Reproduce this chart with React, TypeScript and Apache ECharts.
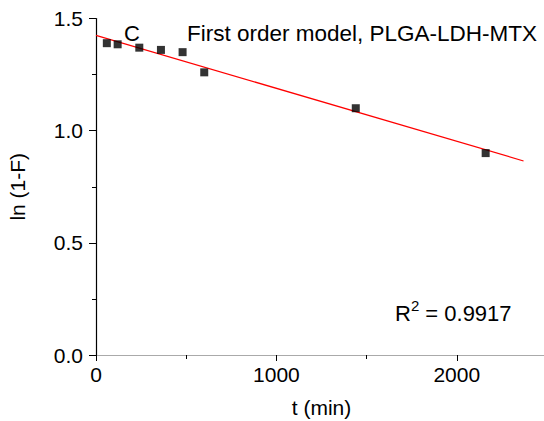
import React, { useEffect, useRef } from "react";
import * as echarts from "echarts";

const timeMin = [60, 120, 240, 360, 480, 600, 1440, 2160];
const lnValues = [1.39, 1.385, 1.37, 1.36, 1.35, 1.26, 1.1, 0.9];
const fitX = [0, 2370];
const fitY = [1.425, 0.865];
const xTicks = [0, 1000, 2000];
const yTicks = [0, 0.5, 1.0, 1.5];

const FONT = "'Liberation Sans', Arial, sans-serif";

export default function App() {
  const ref = useRef<HTMLDivElement>(null);
  useEffect(() => {
    if (!ref.current) return;
    const chart = echarts.init(ref.current, null, { renderer: "svg" });
    const scatterData = timeMin.map((t, i) => [t, lnValues[i]]);
    const fitData = fitX.map((t, i) => [t, fitY[i]]);
    chart.setOption({
      animation: false,
      backgroundColor: "#fff",
      grid: {
        left: 96,
        right: -3,
        top: 18.5,
        bottom: 66,
        containLabel: false,
        outerBoundsMode: "none",
      },
      xAxis: [
        {
          type: "value",
          min: 0,
          max: 2500,
          interval: 1000,
          name: "t (min)",
          nameLocation: "middle",
          nameGap: 42,
          nameTextStyle: { fontFamily: FONT, fontSize: 21, color: "#000" },
          axisLine: { show: true, onZero: false, lineStyle: { color: "#000", width: 1.2 } },
          axisTick: { show: true, inside: false, length: 6, lineStyle: { color: "#000" } },
          minorTick: { show: true, splitNumber: 2, length: 4, lineStyle: { color: "#000" } },
          splitLine: { show: false },
          axisLabel: {
            fontFamily: FONT,
            fontSize: 21,
            color: "#000",
            margin: 9,
            formatter: (v: number) => (xTicks.includes(v) ? String(v) : ""),
          },
        },
        {
          type: "value",
          position: "top",
          min: 0,
          max: 2500,
          axisLine: { show: true, lineStyle: { color: "#aaa", width: 1.2 } },
          axisTick: { show: false },
          axisLabel: { show: false },
          splitLine: { show: false },
        },
      ],
      yAxis: {
        type: "value",
        min: 0,
        max: 1.5,
        interval: 0.5,
        name: "ln (1-F)",
        nameLocation: "middle",
        nameGap: 68,
        nameTextStyle: { fontFamily: FONT, fontSize: 21, color: "#000" },
        axisLine: { show: true, onZero: false, lineStyle: { color: "#000", width: 1.2 } },
        axisTick: { show: true, inside: false, length: 7, lineStyle: { color: "#000" } },
        minorTick: { show: true, splitNumber: 2, length: 4, lineStyle: { color: "#000" } },
        splitLine: { show: false },
        axisLabel: {
          fontFamily: FONT,
          fontSize: 21,
          color: "#000",
          margin: 13,
          formatter: (v: number) => (yTicks.includes(v) ? v.toFixed(1) : ""),
        },
      },
      series: [
        {
          type: "line",
          data: fitData,
          showSymbol: false,
          symbol: "none",
          lineStyle: { color: "#ff0000", width: 1.2 },
          z: 2,
        },
        {
          type: "scatter",
          data: scatterData,
          symbol: "rect",
          symbolSize: 8,
          itemStyle: { color: "#000" },
          z: 3,
        },
      ],
      graphic: [
        {
          type: "text",
          left: 124,
          top: 22,
          style: { text: "C", fontFamily: FONT, fontSize: 22, fill: "#000" },
        },
        {
          type: "text",
          left: 187,
          top: 22,
          style: {
            text: "First order model, PLGA-LDH-MTX",
            fontFamily: FONT,
            fontSize: 22.5,
            fill: "#000",
          },
        },
        {
          type: "text",
          left: 395,
          top: 298,
          style: {
            text: "{a|R}{b|2}{a| = 0.9917}",
            fill: "#000",
            rich: {
              a: { fontFamily: FONT, fontSize: 22, lineHeight: 26, verticalAlign: "bottom" },
              b: { fontFamily: FONT, fontSize: 15, lineHeight: 26, verticalAlign: "top" },
            },
          },
        },
      ],
    });
    return () => chart.dispose();
  }, []);
  return (
    <div
      ref={ref}
      style={{ position: "absolute", left: 0, top: 0, width: 544, height: 421 }}
    />
  );
}
